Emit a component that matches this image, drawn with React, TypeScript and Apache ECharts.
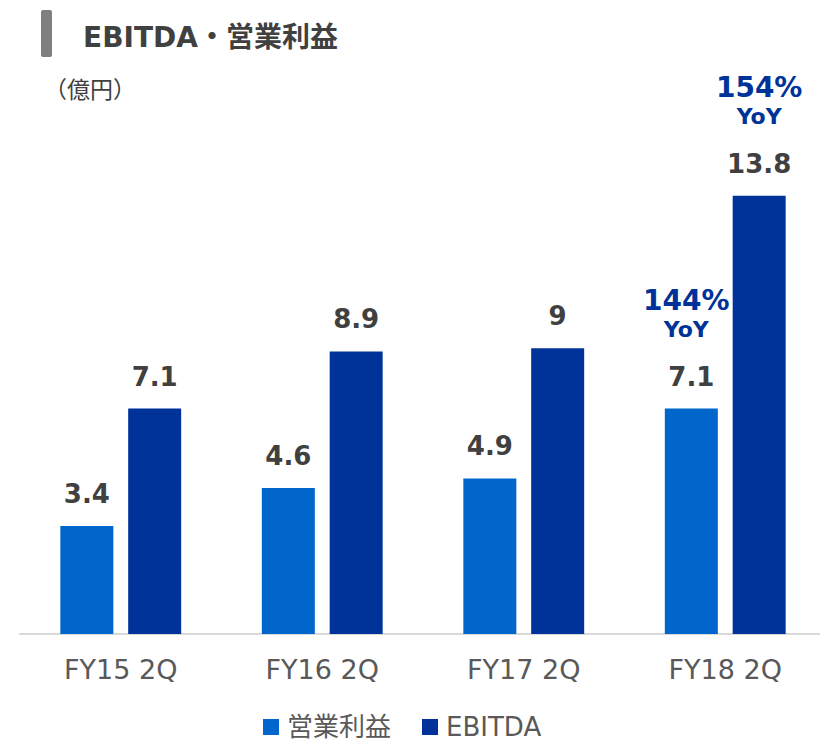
import React, { useEffect, useRef } from "react";
import * as echarts from "echarts";

const categories = ["FY15 2Q", "FY16 2Q", "FY17 2Q", "FY18 2Q"];
const seriesNames = ["営業利益", "EBITDA"];
const operatingProfit = [3.4, 4.6, 4.9, 7.1];
const ebitda = [7.1, 8.9, 9, 13.8];
const yoyOperating: (string | null)[] = [null, null, null, "144%"];
const yoyEbitda: (string | null)[] = [null, null, null, "154%"];
const titleText = "EBITDA・営業利益";
const unitText = "（億円）";

const LIGHT = "#0066CC";
const DARK = "#003399";
const LABEL = "#404040";
const AXIS_TEXT = "#595959";
const LATIN = "'DejaVu Sans', 'Noto Sans CJK JP', sans-serif";
const CJK = "'Noto Sans CJK JP', 'DejaVu Sans', sans-serif";

function buildData(values: number[], yoy: (string | null)[], shiftLeft: number) {
  return values.map((v, i) => {
    const y = yoy[i];
    if (!y) return v;
    return {
      value: v,
      label: {
        formatter: `{p|${y}}\n{y|YoY}\n{g| }\n{v|${v}}`,
        rich: {
          p: {
            fontFamily: LATIN,
            fontWeight: "bold",
            fontSize: 28,
            lineHeight: 30,
            color: DARK,
            padding: [0, shiftLeft, 0, 0],
          },
          y: {
            fontFamily: LATIN,
            fontWeight: "bold",
            fontSize: 22,
            lineHeight: 28,
            color: DARK,
            padding: [0, shiftLeft, 0, 0],
          },
          g: { fontSize: 10, lineHeight: 18 },
          v: {
            fontFamily: LATIN,
            fontWeight: "bold",
            fontSize: 26,
            lineHeight: 30,
            color: LABEL,
          },
        },
      },
    };
  });
}

export default function App() {
  const ref = useRef<HTMLDivElement>(null);
  useEffect(() => {
    if (!ref.current) return;
    const chart = echarts.init(ref.current, null, { renderer: "svg" });
    const baseLabel = {
      show: true,
      position: "top",
      distance: 17,
      fontFamily: LATIN,
      fontWeight: "bold",
      fontSize: 26,
      lineHeight: 30,
      color: LABEL,
    };
    chart.setOption({
      animation: false,
      backgroundColor: "#ffffff",
      graphic: [
        {
          type: "rect",
          shape: { x: 41, y: 10, width: 11, height: 47, r: 2 },
          style: { fill: "#7f7f7f" },
        },
        {
          type: "text",
          x: 83,
          y: 37,
          style: {
            text: titleText,
            fontFamily: LATIN,
            fontWeight: "bold",
            fontSize: 28,
            fill: LABEL,
            textVerticalAlign: "middle",
          },
        },
        {
          type: "text",
          x: 44,
          y: 88,
          style: {
            text: unitText,
            fontFamily: CJK,
            fontSize: 23,
            fill: LABEL,
            textVerticalAlign: "middle",
          },
        },
      ],
      legend: {
        data: seriesNames,
        left: 263,
        top: 714,
        padding: 0,
        icon: "rect",
        itemWidth: 16,
        itemHeight: 16,
        itemGap: 31,
        formatter: (name: string) => `{t|${name}}`,
        textStyle: {
          fontFamily: LATIN,
          fontSize: 26,
          lineHeight: 26,
          color: AXIS_TEXT,
          rich: {
            t: {
              fontFamily: LATIN,
              fontSize: 26,
              lineHeight: 26,
              color: AXIS_TEXT,
              padding: [0, 0, 0, 3],
            },
          },
        },
      },
      grid: { left: 20, right: 0, top: 126, bottom: 108 },
      xAxis: {
        type: "category",
        data: categories,
        axisLine: { lineStyle: { color: "#d9d9d9", width: 2 } },
        axisTick: { show: false },
        axisLabel: {
          margin: 22,
          fontFamily: LATIN,
          fontSize: 27,
          color: AXIS_TEXT,
        },
      },
      yAxis: {
        type: "value",
        min: 0,
        max: 16,
        show: false,
        splitLine: { show: false },
      },
      series: [
        {
          name: seriesNames[0],
          type: "bar",
          data: buildData(operatingProfit, yoyOperating, 10),
          barWidth: 53,
          barGap: "28%",
          itemStyle: { color: LIGHT },
          label: baseLabel,
        },
        {
          name: seriesNames[1],
          type: "bar",
          data: buildData(ebitda, yoyEbitda, 0),
          barWidth: 53,
          itemStyle: { color: DARK },
          label: baseLabel,
        },
      ],
    });
    return () => chart.dispose();
  }, []);
  return (
    <div
      ref={ref}
      style={{ position: "fixed", left: 0, top: 0, width: 826, height: 742 }}
    />
  );
}
